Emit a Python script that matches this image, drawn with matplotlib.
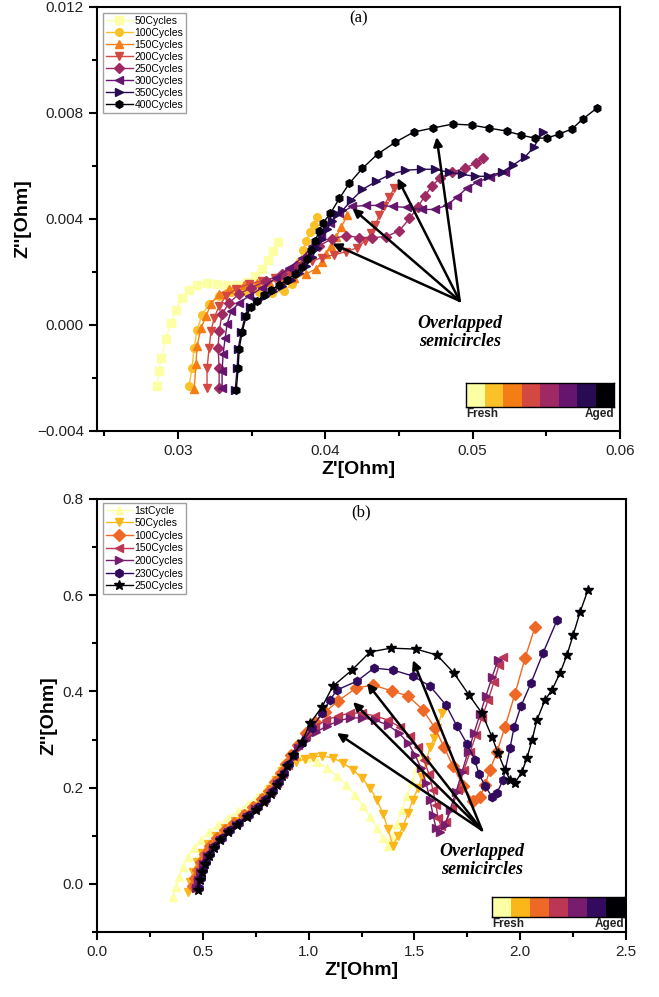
import numpy as np
import matplotlib.pyplot as plt
from matplotlib.patches import Rectangle
from matplotlib.ticker import MultipleLocator, FuncFormatter

plt.rcParams['font.family'] = ['Liberation Sans', 'DejaVu Sans']

# ---------------- panel (a) data : Z' , Z'' in Ohm ----------------
a_labels = ['50Cycles', '100Cycles', '150Cycles', '200Cycles',
            '250Cycles', '300Cycles', '350Cycles', '400Cycles']
a_markers = ['s', 'o', '^', 'v', 'D', '<', '>', 'h']

a50_x = [0.02857, 0.02871, 0.02884, 0.02918, 0.02952, 0.02986, 0.03027, 0.03075, 0.03129, 0.03197,
         0.03265, 0.03333, 0.03401, 0.03469, 0.03524, 0.03571, 0.03612, 0.03646, 0.0368]
a50_y = [-0.002313, -0.001744, -0.001251, -0.000531, 0.000076, 0.000569, 0.001024, 0.001327, 0.001517, 0.001592,
         0.001555, 0.001517, 0.001517, 0.00163, 0.001858, 0.002123, 0.002464, 0.002806, 0.003147]

a100_x = [0.03075, 0.03095, 0.03109, 0.03129, 0.03163, 0.03211, 0.03279, 0.03361, 0.03456, 0.03551,
          0.03639, 0.03721, 0.03776, 0.0381, 0.0383, 0.0385, 0.03871, 0.03898, 0.03925, 0.03946]
a100_y = [-0.002313, -0.00163, -0.000872, -0.00019, 0.000379, 0.000796, 0.0011, 0.001251, 0.001289, 0.001251,
          0.001213, 0.001289, 0.001555, 0.001972, 0.002427, 0.002844, 0.003185, 0.003526, 0.003792, 0.004057]

a150_x = [0.03109, 0.03122, 0.03129, 0.03156, 0.0319, 0.03224, 0.03279, 0.03347, 0.03449, 0.03537,
          0.03619, 0.03707, 0.03789, 0.03871, 0.03939, 0.0398, 0.04007, 0.04041, 0.04075, 0.04109, 0.0415]
a150_y = [-0.002427, -0.001479, -0.000796, -0.000114, 0.000341, 0.000796, 0.001175, 0.001365, 0.001517, 0.001592,
          0.00163, 0.001706, 0.001782, 0.001934, 0.002123, 0.002389, 0.002692, 0.002995, 0.003337, 0.003716, 0.004133]

a200_x = [0.03197, 0.03197, 0.03211, 0.03224, 0.03245, 0.03279, 0.03327, 0.03395, 0.03483, 0.03571,
          0.0366, 0.03755, 0.03844, 0.03912, 0.0398, 0.04061, 0.04143, 0.04218, 0.04272, 0.04313,
          0.0434, 0.04367, 0.04395, 0.04429, 0.04469]
a200_y = [-0.002389, -0.00163, -0.000872, -0.000227, 0.000265, 0.00072, 0.0011, 0.001365, 0.001555, 0.001668,
          0.001782, 0.001972, 0.002237, 0.002427, 0.00254, 0.002654, 0.002768, 0.002919, 0.003185, 0.003488,
          0.003792, 0.004133, 0.004474, 0.004815, 0.005156]

a250_x = [0.03279, 0.03279, 0.03272, 0.03279, 0.03299, 0.03347, 0.03415, 0.03497, 0.03599, 0.03707,
          0.03803, 0.03871, 0.03959, 0.04048, 0.04143, 0.04231, 0.0432, 0.04415, 0.04503, 0.04571,
          0.04626, 0.04673, 0.04721, 0.04776, 0.04857, 0.04946, 0.0502, 0.05068]
a250_y = [-0.002389, -0.00163, -0.000872, -0.000227, 0.000417, 0.000834, 0.001175, 0.001403, 0.001668, 0.001934,
          0.002237, 0.00254, 0.002995, 0.003261, 0.003374, 0.003299, 0.003299, 0.003337, 0.003564, 0.004019,
          0.004436, 0.004853, 0.005232, 0.005536, 0.005763, 0.005915, 0.006104, 0.006294]

a300_x = [0.03299, 0.03299, 0.03306, 0.0332, 0.03333, 0.03361, 0.03415, 0.03483, 0.03571, 0.03667,
          0.03755, 0.03844, 0.03912, 0.03973, 0.04034, 0.04095, 0.04184, 0.04279, 0.04367, 0.04456,
          0.04551, 0.04653, 0.04741, 0.04823, 0.04891, 0.04959, 0.05027, 0.05116, 0.05218]
a300_y = [-0.002389, -0.001744, -0.0011, -0.000493, 0.000038, 0.000531, 0.000834, 0.0011, 0.001403, 0.001782,
          0.002161, 0.00254, 0.002995, 0.00345, 0.003867, 0.004209, 0.004474, 0.004512, 0.004512, 0.004474,
          0.004436, 0.00436, 0.00436, 0.004512, 0.004815, 0.005156, 0.005384, 0.005574, 0.005763]

a350_x = [0.03388, 0.03401, 0.03408, 0.03429, 0.03456, 0.0349, 0.03537, 0.03592, 0.03646, 0.03707,
          0.03769, 0.03823, 0.03871, 0.03912, 0.03946, 0.0398, 0.04014, 0.04048, 0.04082, 0.04116,
          0.04177, 0.04252, 0.04347, 0.04442, 0.04544, 0.04646, 0.04741, 0.04837, 0.04925, 0.05014,
          0.05102, 0.05197, 0.05272, 0.05354, 0.05415, 0.05476]
a350_y = [-0.002464, -0.00163, -0.00091, -0.000265, 0.000341, 0.000682, 0.00091, 0.0011, 0.001289, 0.001479,
          0.001706, 0.001972, 0.002237, 0.002578, 0.002919, 0.003261, 0.00364, 0.003943, 0.004171, 0.004322,
          0.004701, 0.005119, 0.005422, 0.005687, 0.005839, 0.005877, 0.005877, 0.005763, 0.005687, 0.005611,
          0.005611, 0.005763, 0.006028, 0.006332, 0.006711, 0.00728]

a400_x = [0.03395, 0.03408, 0.03415, 0.03435, 0.03463, 0.03497, 0.03537, 0.03585, 0.03633, 0.03687,
          0.03741, 0.03796, 0.03844, 0.03878, 0.03905, 0.03932, 0.03959, 0.03986, 0.04034, 0.04095,
          0.04163, 0.04252, 0.04354, 0.04476, 0.04599, 0.04728, 0.04864, 0.04993, 0.05109, 0.05231,
          0.05327, 0.05422, 0.05503, 0.05585, 0.05673, 0.05748, 0.05844]
a400_y = [-0.002464, -0.00163, -0.00091, -0.000265, 0.000341, 0.000682, 0.00091, 0.001137, 0.001327, 0.001517,
          0.001706, 0.001934, 0.002199, 0.002502, 0.002844, 0.003185, 0.003564, 0.003867, 0.004209, 0.004777,
          0.005346, 0.005915, 0.006446, 0.006901, 0.00728, 0.007431, 0.007583, 0.007545, 0.007431, 0.007318,
          0.007166, 0.007052, 0.007052, 0.007204, 0.007393, 0.007773, 0.00819]

a_series = [(a50_x, a50_y), (a100_x, a100_y), (a150_x, a150_y), (a200_x, a200_y),
            (a250_x, a250_y), (a300_x, a300_y), (a350_x, a350_y), (a400_x, a400_y)]

# arrows of panel (a): tail and heads
a_arrow_tail = (0.04912, 0.00091)
a_arrow_heads = [(0.04048, 0.00307), (0.04184, 0.0044), (0.0449, 0.00554), (0.04755, 0.00709)]

# ---------------- panel (b) data ----------------
b_labels = ['1stCycle', '50Cycles', '100Cycles', '150Cycles', '200Cycles', '230Cycles', '250Cycles']
b_markers = ['^', 'v', 'D', '<', '>', 'h', '*']

b1_x = [0.359, 0.373, 0.388, 0.406, 0.430, 0.458, 0.491, 0.529, 0.572, 0.619,
        0.666, 0.714, 0.756, 0.794, 0.827, 0.855, 0.879, 0.912, 0.950, 0.992,
        1.040, 1.087, 1.134, 1.177, 1.219, 1.257, 1.290, 1.323, 1.352, 1.375,
        1.394, 1.418, 1.441, 1.465, 1.489, 1.512, 1.531]
b1_y = [-0.027, -0.0062, 0.0145, 0.0353, 0.0561, 0.0748, 0.0914, 0.108, 0.1225, 0.137,
        0.1516, 0.166, 0.1807, 0.197, 0.216, 0.2347, 0.2534, 0.2638, 0.2659, 0.2617,
        0.2534, 0.241, 0.2243, 0.2056, 0.1849, 0.162, 0.139, 0.1163, 0.0955, 0.079,
        0.0955, 0.1246, 0.1537, 0.1828, 0.212, 0.241, 0.268]

b50_x = [0.430, 0.440, 0.454, 0.473, 0.496, 0.525, 0.562, 0.605, 0.652, 0.699,
         0.747, 0.785, 0.818, 0.846, 0.874, 0.898, 0.940, 0.983, 1.021, 1.063,
         1.115, 1.163, 1.210, 1.252, 1.290, 1.323, 1.352, 1.375, 1.399, 1.422,
         1.446, 1.470, 1.493, 1.517, 1.536, 1.555, 1.574, 1.593, 1.607, 1.630]
b50_y = [-0.0166, 0.0042, 0.0249, 0.0457, 0.0644, 0.083, 0.0997, 0.1163, 0.1308, 0.1454,
         0.162, 0.1786, 0.197, 0.216, 0.2347, 0.245, 0.2534, 0.2596, 0.2638, 0.2659,
         0.2617, 0.2513, 0.2368, 0.2202, 0.1994, 0.1745, 0.1454, 0.1142, 0.079, 0.0997,
         0.1184, 0.1475, 0.1745, 0.1994, 0.2222, 0.2534, 0.2845, 0.3032, 0.324, 0.355]

b100_x = [0.454, 0.463, 0.477, 0.491, 0.510, 0.534, 0.567, 0.605, 0.647, 0.695,
          0.737, 0.780, 0.813, 0.841, 0.870, 0.893, 0.917, 0.950, 0.988, 1.030,
          1.078, 1.139, 1.224, 1.304, 1.394, 1.470, 1.541, 1.597, 1.640, 1.682,
          1.730, 1.777, 1.810, 1.834, 1.857, 1.890, 1.928, 1.975, 2.023, 2.070]
b100_y = [-0.0042, 0.0125, 0.029, 0.0457, 0.0623, 0.079, 0.0955, 0.112, 0.1267, 0.1433,
          0.16, 0.1765, 0.193, 0.212, 0.2305, 0.249, 0.268, 0.2887, 0.3136, 0.3365,
          0.357, 0.380, 0.407, 0.4133, 0.401, 0.3905, 0.3614, 0.324, 0.2845, 0.245,
          0.2035, 0.1724, 0.1807, 0.2056, 0.2368, 0.274, 0.326, 0.3946, 0.4694, 0.534]

b150_x = [0.462, 0.471, 0.485, 0.499, 0.518, 0.542, 0.575, 0.613, 0.655, 0.703,
          0.745, 0.788, 0.821, 0.849, 0.878, 0.901, 0.925, 0.950, 0.988, 1.030,
          1.082, 1.139, 1.196, 1.252, 1.314, 1.375, 1.432, 1.479, 1.517, 1.545,
          1.569, 1.588, 1.602, 1.612, 1.626, 1.649, 1.678, 1.706, 1.734, 1.763,
          1.791, 1.819, 1.848, 1.876, 1.900, 1.919]
b150_y = [-0.006, 0.011, 0.027, 0.044, 0.061, 0.077, 0.094, 0.110, 0.125, 0.141,
          0.158, 0.175, 0.191, 0.210, 0.229, 0.247, 0.266, 0.2887, 0.3095, 0.326,
          0.3406, 0.349, 0.355, 0.355, 0.349, 0.3406, 0.326, 0.3074, 0.2845, 0.2575,
          0.2285, 0.195, 0.164, 0.137, 0.1205, 0.1288, 0.158, 0.195, 0.2368, 0.274,
          0.3095, 0.345, 0.382, 0.4195, 0.455, 0.4715]

b200_x = [0.466, 0.475, 0.489, 0.503, 0.522, 0.546, 0.579, 0.617, 0.659, 0.707,
          0.749, 0.792, 0.825, 0.853, 0.882, 0.905, 0.929, 0.950, 0.988, 1.035,
          1.087, 1.139, 1.196, 1.252, 1.314, 1.375, 1.427, 1.470, 1.503, 1.531,
          1.555, 1.574, 1.588, 1.602, 1.621, 1.645, 1.668, 1.697, 1.725, 1.753,
          1.782, 1.810, 1.838, 1.867, 1.895]
b200_y = [-0.008, 0.009, 0.025, 0.042, 0.059, 0.075, 0.092, 0.108, 0.123, 0.139,
          0.156, 0.173, 0.189, 0.208, 0.227, 0.245, 0.264, 0.2825, 0.299, 0.3157,
          0.328, 0.3386, 0.345, 0.345, 0.3406, 0.330, 0.3136, 0.293, 0.268, 0.241,
          0.21, 0.1745, 0.143, 0.1163, 0.108, 0.1225, 0.1537, 0.191, 0.2326, 0.274,
          0.3136, 0.353, 0.3905, 0.43, 0.465]

b230_x = [0.482, 0.491, 0.501, 0.515, 0.534, 0.558, 0.591, 0.629, 0.671, 0.718,
          0.761, 0.799, 0.832, 0.860, 0.884, 0.907, 0.931, 0.969, 1.016, 1.063,
          1.101, 1.134, 1.229, 1.309, 1.399, 1.493, 1.574, 1.649, 1.701, 1.749,
          1.786, 1.805, 1.834, 1.867, 1.890, 1.919, 1.952, 1.971, 2.004, 2.051,
          2.108, 2.174]
b230_y = [-0.0083, 0.0125, 0.029, 0.0457, 0.0623, 0.079, 0.0955, 0.112, 0.1267, 0.1433,
          0.16, 0.1765, 0.193, 0.212, 0.2305, 0.249, 0.268, 0.293, 0.324, 0.355,
          0.382, 0.403, 0.4216, 0.4486, 0.4445, 0.432, 0.411, 0.3718, 0.328, 0.291,
          0.2575, 0.2285, 0.2035, 0.1807, 0.189, 0.216, 0.2825, 0.326, 0.3697, 0.4175,
          0.48, 0.548]

b250_x = [0.477, 0.487, 0.496, 0.510, 0.529, 0.553, 0.581, 0.619, 0.662, 0.709,
          0.751, 0.789, 0.822, 0.851, 0.874, 0.898, 0.926, 0.969, 1.007, 1.063,
          1.115, 1.205, 1.290, 1.389, 1.508, 1.607, 1.687, 1.758, 1.819, 1.867,
          1.895, 1.928, 1.952, 1.975, 2.008, 2.032, 2.056, 2.079, 2.117, 2.150,
          2.188, 2.221, 2.250, 2.283, 2.320]
b250_y = [-0.0125, 0.0083, 0.0249, 0.0415, 0.0582, 0.0748, 0.0914, 0.108, 0.1225, 0.139,
          0.1537, 0.170, 0.187, 0.2056, 0.2243, 0.245, 0.268, 0.295, 0.334, 0.3676,
          0.411, 0.4445, 0.482, 0.490, 0.488, 0.4756, 0.438, 0.3926, 0.355, 0.305,
          0.272, 0.2368, 0.216, 0.2098, 0.2326, 0.2617, 0.299, 0.3406, 0.382, 0.403,
          0.438, 0.4756, 0.517, 0.565, 0.6106]

b_series = [(b1_x, b1_y), (b50_x, b50_y), (b100_x, b100_y), (b150_x, b150_y),
            (b200_x, b200_y), (b230_x, b230_y), (b250_x, b250_y)]

b_arrow_tail = (1.819, 0.112)
b_arrow_heads = [(1.134, 0.3136), (1.210, 0.378), (1.276, 0.4175), (1.493, 0.465)]


def minus_fmt(fmt):
    return FuncFormatter(lambda v, pos: (fmt % v).replace('-', '\u2212'))


def style_axes(ax):
    for sp in ax.spines.values():
        sp.set_linewidth(1.5)
    ax.tick_params(which='both', direction='out', top=False, right=False,
                   labelsize=11, labelcolor='#222222')
    ax.tick_params(which='major', length=6, width=1.5)
    ax.tick_params(which='minor', length=3.5, width=1.5)


def draw_swatch(ax, colors, rect):
    # little Fresh -> Aged colour strip
    sw = ax.inset_axes(rect)
    for i, c in enumerate(colors):
        sw.add_patch(Rectangle((i, 0), 1, 1, facecolor=c, edgecolor='none'))
    sw.set_xlim(0, len(colors))
    sw.set_ylim(0, 1)
    sw.set_xticks([])
    sw.set_yticks([])
    for sp in sw.spines.values():
        sp.set_linewidth(1.0)
    sw.text(0.0, -0.04, 'Fresh', transform=sw.transAxes, ha='left', va='top',
            fontsize=8.5, fontweight='bold', color='#222222')
    sw.text(1.0, -0.04, 'Aged', transform=sw.transAxes, ha='right', va='top',
            fontsize=8.5, fontweight='bold', color='#222222')


def draw_arrows(ax, tail, heads):
    for h in heads:
        ax.annotate('', xy=h, xytext=tail,
                    arrowprops=dict(arrowstyle='-|>', color='black', lw=1.8,
                                    mutation_scale=13, shrinkA=0, shrinkB=0))


def add_legend(ax, anchor, spacing):
    ax.legend(loc='upper left', bbox_to_anchor=anchor, borderaxespad=0,
              fontsize=7.5, frameon=True, fancybox=False, edgecolor='#888888',
              handlelength=2.6, handletextpad=0.15, labelspacing=spacing, borderpad=0.25)


fig = plt.figure(figsize=(6.59, 9.97), dpi=100)
W, H = 659.0, 997.0
ax1 = fig.add_axes([97 / W, 1 - 431 / H, 523 / W, 424 / H])
ax2 = fig.add_axes([97 / W, 1 - 932 / H, 529 / W, 433 / H])

# ---- panel (a)
a_colors = plt.cm.inferno(np.linspace(1.0, 0.0, len(a_labels)))
for (xs, ys), lab, mk, col in zip(a_series, a_labels, a_markers, a_colors):
    ax1.plot(xs, ys, color=col, marker=mk, markersize=5.5, linewidth=1.0, label=lab)

ax1.set_xlim(0.0245, 0.06)
ax1.set_ylim(-0.004, 0.012)
ax1.xaxis.set_major_locator(MultipleLocator(0.01))
ax1.xaxis.set_minor_locator(MultipleLocator(0.005))
ax1.yaxis.set_major_locator(MultipleLocator(0.004))
ax1.yaxis.set_minor_locator(MultipleLocator(0.002))
ax1.xaxis.set_major_formatter(minus_fmt('%.2f'))
ax1.yaxis.set_major_formatter(minus_fmt('%.3f'))
style_axes(ax1)
ax1.set_xlabel("Z'[Ohm]", fontsize=14, fontweight='bold', labelpad=2)
ax1.set_ylabel("Z''[Ohm]", fontsize=14, fontweight='bold', labelpad=4)
ax1.text(0.5, 0.974, '(a)', transform=ax1.transAxes, ha='center', va='center',
         family=['Liberation Serif'], fontsize=12)
add_legend(ax1, (0.0115, 0.986), 0.2)
draw_arrows(ax1, a_arrow_tail, a_arrow_heads)
ax1.text(a_arrow_tail[0], -0.00027, 'Overlapped\nsemicircles', ha='center', va='center',
         family=['Liberation Serif'], style='italic', fontweight='bold', fontsize=13,
         linespacing=1.1)
draw_swatch(ax1, a_colors, [0.706, 0.0566, 0.283, 0.0566])

# ---- panel (b)
b_colors = plt.cm.inferno(np.linspace(1.0, 0.0, len(b_labels)))
for (xs, ys), lab, mk, col in zip(b_series, b_labels, b_markers, b_colors):
    ms = 7.5 if mk == '*' else 6
    ax2.plot(xs, ys, color=col, marker=mk, markersize=ms, linewidth=1.0, label=lab)

ax2.set_xlim(0.0, 2.5)
ax2.set_ylim(-0.1, 0.8)
ax2.xaxis.set_major_locator(MultipleLocator(0.5))
ax2.xaxis.set_minor_locator(MultipleLocator(0.25))
ax2.yaxis.set_major_locator(MultipleLocator(0.2))
ax2.yaxis.set_minor_locator(MultipleLocator(0.1))
ax2.xaxis.set_major_formatter(minus_fmt('%.1f'))
ax2.yaxis.set_major_formatter(minus_fmt('%.1f'))
style_axes(ax2)
ax2.set_xlabel("Z'[Ohm]", fontsize=14, fontweight='bold', labelpad=2)
ax2.set_ylabel("Z''[Ohm]", fontsize=14, fontweight='bold', labelpad=4)
ax2.text(0.5, 0.97, '(b)', transform=ax2.transAxes, ha='center', va='center',
         family=['Liberation Serif'], fontsize=12)
add_legend(ax2, (0.0113, 0.991), 0.25)
draw_arrows(ax2, b_arrow_tail, b_arrow_heads)
ax2.text(b_arrow_tail[0], 0.048, 'Overlapped\nsemicircles', ha='center', va='center',
         family=['Liberation Serif'], style='italic', fontweight='bold', fontsize=13,
         linespacing=1.1)
draw_swatch(ax2, b_colors, [0.747, 0.035, 0.25, 0.046])

fig.savefig('out.png', dpi=100)
